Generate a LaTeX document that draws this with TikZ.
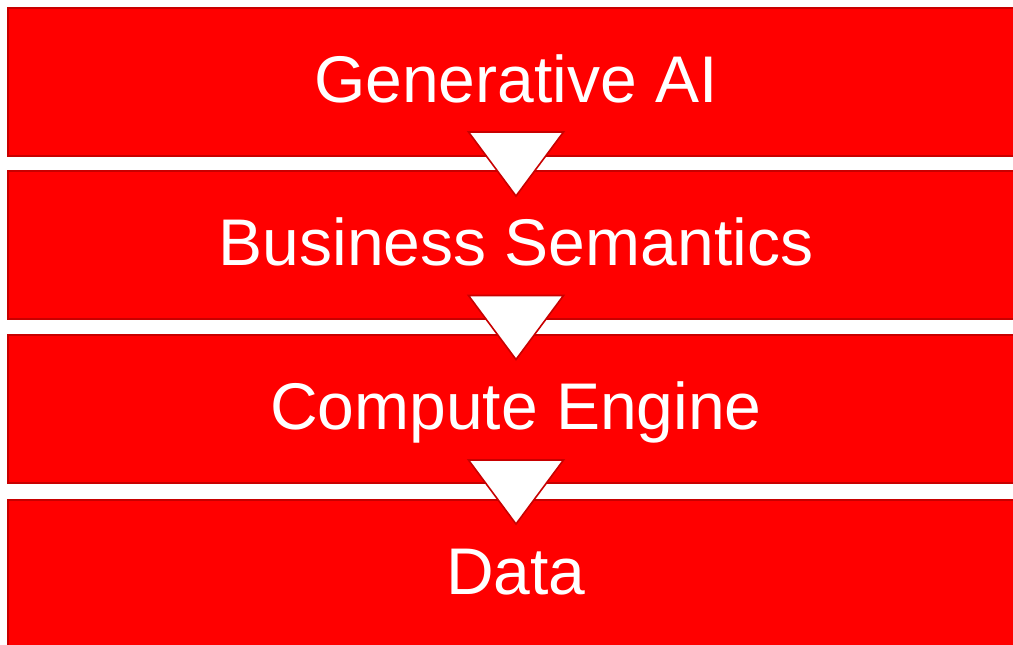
\documentclass[tikz,border=0pt]{standalone}
\usepackage{fontspec}
\setmainfont{Liberation Sans}
\definecolor{layerred}{HTML}{FF0000}
\definecolor{edgered}{HTML}{C80000}
\begin{document}
\begin{tikzpicture}[x=1pt,y=-1pt,
  layer/.style={draw=edgered, fill=layerred, line width=1.5pt,
    minimum width=1012pt, minimum height=148pt, inner sep=0pt},
  lbl/.style={anchor=base, text=white, font=\fontsize{66}{70}\selectfont, inner sep=0pt},
  flowtri/.style={draw=edgered, fill=white, line width=1.6pt, line join=miter}
]
\useasboundingbox (0,0) rectangle (1013,645);
\clip (0,0) rectangle (1013,645);

% stacked layers
\node[layer] (b1) at (514,82) {};
\node[layer] (b2) at (514,245) {};
\node[layer] (b3) at (514,409) {};
\node[layer] (b4) at (514,574) {};

% layer titles
\node[lbl] (t1) at ([xshift=2pt,yshift=-20pt]b1.center) {Generative AI};
\node[lbl] (t2) at ([xshift=2pt,yshift=-20pt]b2.center) {Business Semantics};
\node[lbl] (t3) at ([xshift=2pt,yshift=-20pt]b3.center) {Compute Engine};
\node[lbl] (t4) at ([xshift=2pt,yshift=-20pt]b4.center) {Data};

% downward triangles bridging the gaps
\coordinate (g1) at (516,163.5);
\coordinate (g2) at (516,327);
\coordinate (g3) at (516,491.5);
\foreach \g in {g1,g2,g3}{
  \draw[flowtri] ([xshift=-47.5pt,yshift=31.5pt]\g) -- ([xshift=47.5pt,yshift=31.5pt]\g)
    -- ([yshift=-32.5pt]\g) -- cycle;
}
\end{tikzpicture}
\end{document}
